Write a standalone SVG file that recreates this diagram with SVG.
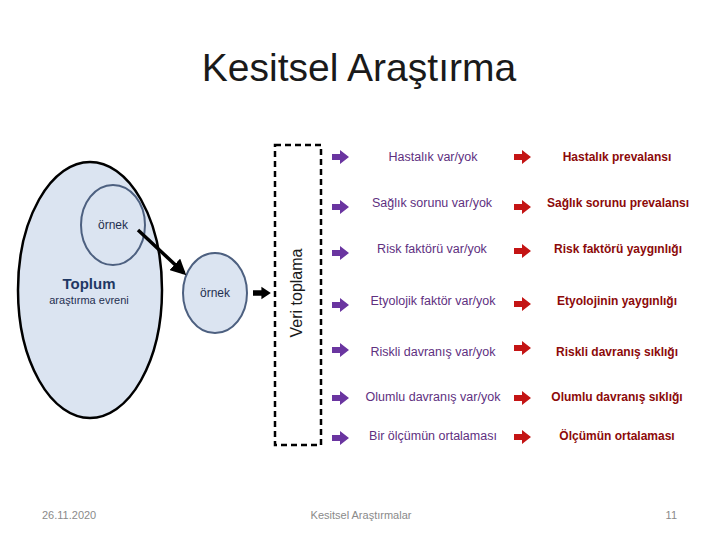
<svg xmlns="http://www.w3.org/2000/svg" width="720" height="540" viewBox="0 0 720 540">
<defs>
<style>
text{font-family:"Liberation Sans",Arial,sans-serif;}
.title{font-size:39px;fill:#1a1a1a;}
.pur{font-size:12.5px;fill:#60307f;text-anchor:middle;}
.red{font-size:12px;fill:#8c0a0a;text-anchor:middle;font-weight:bold;}
.foot{font-size:11px;fill:#8a8a8a;}
.lbl{fill:#1f2f50;text-anchor:middle;}
.node{fill:#dbe4f1;}
.pa{fill:#6a35a0;}
.ra{fill:#c41414;}
</style>
<path id="blk" d="M0,-3 L8,-3 L8,-7 L17,0 L8,7 L8,3 L0,3 Z"/>
<marker id="ah" viewBox="0 0 10 10" refX="8" refY="5" markerWidth="4.5" markerHeight="4.5" orient="auto" markerUnits="strokeWidth">
<path d="M0,0 L10,5 L0,10 Z" fill="#000"/>
</marker>
</defs>
<rect width="720" height="540" fill="#fff"/>
<text class="title" x="359" y="81" text-anchor="middle">Kesitsel Araştırma</text>

<g id="toplum">
<ellipse class="node" cx="90" cy="290" rx="72" ry="128" stroke="#000" stroke-width="2.5"/>
<text class="lbl" x="89" y="289" font-size="15" font-weight="bold" fill="#1f3864" style="fill:#1f3864">Toplum</text>
<text class="lbl" x="89" y="304" font-size="11">araştırma evreni</text>
</g>
<g id="ornek1">
<ellipse class="node" cx="113" cy="225" rx="32" ry="40" stroke="#4d6080" stroke-width="2"/>
<text class="lbl" x="113" y="229" font-size="12">örnek</text>
</g>
<g id="ornek2">
<ellipse class="node" cx="215" cy="293" rx="32" ry="40" stroke="#4d6080" stroke-width="2"/>
<text class="lbl" x="215" y="297" font-size="12">örnek</text>
</g>
<g id="veri">
<rect x="275" y="145" width="46" height="300" fill="none" stroke="#000" stroke-width="2.5" stroke-dasharray="6,4"/>
<text x="304" y="293" font-size="16" fill="#1a1a1a" text-anchor="middle" transform="rotate(-90 304 293)" dy="-2">Veri toplama</text>
</g>

<g id="connectors">
<line x1="138" y1="230" x2="184" y2="273" stroke="#000" stroke-width="3.5" marker-end="url(#ah)"/>
<use href="#blk" transform="translate(253,293) scale(1.05,0.9)" fill="#000"/>
<use href="#blk" class="pa" transform="translate(332,157)"/>
<use href="#blk" class="pa" transform="translate(332,207)"/>
<use href="#blk" class="pa" transform="translate(332,253)"/>
<use href="#blk" class="pa" transform="translate(332,305)"/>
<use href="#blk" class="pa" transform="translate(332,350)"/>
<use href="#blk" class="pa" transform="translate(332,398)"/>
<use href="#blk" class="pa" transform="translate(332,438)"/>
<use href="#blk" class="ra" transform="translate(514,157)"/>
<use href="#blk" class="ra" transform="translate(514,207)"/>
<use href="#blk" class="ra" transform="translate(514,251)"/>
<use href="#blk" class="ra" transform="translate(514,304)"/>
<use href="#blk" class="ra" transform="translate(514,348)"/>
<use href="#blk" class="ra" transform="translate(514,398)"/>
<use href="#blk" class="ra" transform="translate(514,437)"/>
</g>

<g id="r1"><text class="pur" x="433" y="161">Hastalık var/yok</text><text class="red" x="617" y="161">Hastalık prevalansı</text></g>
<g id="r2"><text class="pur" x="432" y="207">Sağlık sorunu var/yok</text><text class="red" x="618" y="207">Sağlık sorunu prevalansı</text></g>
<g id="r3"><text class="pur" x="432" y="253">Risk faktörü var/yok</text><text class="red" x="618" y="253">Risk faktörü yaygınlığı</text></g>
<g id="r4"><text class="pur" x="433" y="305">Etyolojik faktör var/yok</text><text class="red" x="617" y="305">Etyolojinin yaygınlığı</text></g>
<g id="r5"><text class="pur" x="433" y="356">Riskli davranış var/yok</text><text class="red" x="617" y="356">Riskli davranış sıklığı</text></g>
<g id="r6"><text class="pur" x="433" y="401">Olumlu davranış var/yok</text><text class="red" x="617" y="401">Olumlu davranış sıklığı</text></g>
<g id="r7"><text class="pur" x="433" y="440">Bir ölçümün ortalaması</text><text class="red" x="617" y="440">Ölçümün ortalaması</text></g>

<text class="foot" x="42" y="519">26.11.2020</text>
<text class="foot" x="361" y="519" text-anchor="middle">Kesitsel Araştırmalar</text>
<text class="foot" x="677" y="519" text-anchor="end">11</text>
</svg>
